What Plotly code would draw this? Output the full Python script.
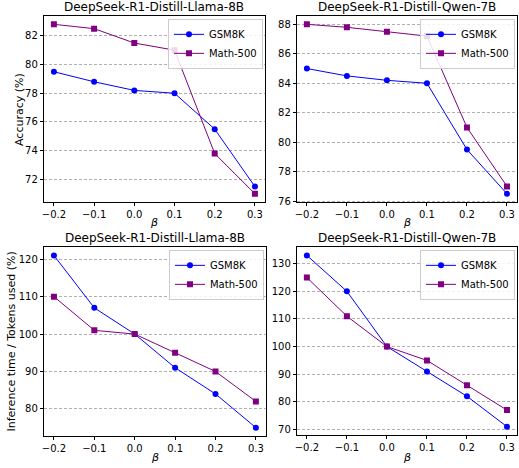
import plotly.graph_objects as go

beta = [-0.2, -0.1, 0.0, 0.1, 0.2, 0.3]
x_ticks = [-0.2, -0.1, 0.0, 0.1, 0.2, 0.3]
x_tick_labels = ["\u22120.2", "\u22120.1", "0.0", "0.1", "0.2", "0.3"]

llama_acc_gsm8k = [79.5, 78.8, 78.2, 78.0, 75.5, 71.5]
llama_acc_math500 = [82.8, 82.5, 81.5, 81.0, 73.8, 71.0]
qwen_acc_gsm8k = [85.0, 84.5, 84.2, 84.0, 79.5, 76.5]
qwen_acc_math500 = [88.0, 87.8, 87.5, 87.2, 81.0, 77.0]
llama_inf_gsm8k = [121, 107, 100, 91, 84, 75]
llama_inf_math500 = [110, 101, 100, 95, 90, 82]
qwen_inf_gsm8k = [133, 120, 100, 91, 82, 71]
qwen_inf_math500 = [125, 111, 100, 95, 86, 77]

titles = ["DeepSeek-R1-Distill-Llama-8B", "DeepSeek-R1-Distill-Qwen-7B",
          "DeepSeek-R1-Distill-Llama-8B", "DeepSeek-R1-Distill-Qwen-7B"]
y_ticks = [[72, 74, 76, 78, 80, 82], [76, 78, 80, 82, 84, 86, 88],
           [80, 90, 100, 110, 120], [70, 80, 90, 100, 110, 120, 130]]
series = [(llama_acc_gsm8k, llama_acc_math500), (qwen_acc_gsm8k, qwen_acc_math500),
          (llama_inf_gsm8k, llama_inf_math500), (qwen_inf_gsm8k, qwen_inf_math500)]
y_titles = ["Accuracy (%)", None, "Inference time / Tokens used (%)", None]
y_title_x = [17, None, 10, None]

W, H = 519, 468
FONT = "DejaVu Sans"
BLUE = "#0000ff"
PURPLE = "#800080"

# pixel boxes (left, right, top, bottom)
boxes = [(42, 264, 16, 204), (296, 517, 16, 204), (42, 265, 249, 440), (296, 517, 249, 439)]
xtitle_y = [224, 224, 461, 461]

fig = go.Figure()
layout = dict(width=W, height=H, margin=dict(l=0, r=0, t=0, b=0),
              plot_bgcolor="white", paper_bgcolor="white",
              font=dict(family=FONT, size=10, color="black"), annotations=[])

for i, (box, (g, m)) in enumerate(zip(boxes, series)):
    l, r, t, b = box
    n = "" if i == 0 else str(i + 1)
    xa, ya = "x" + n, "y" + n
    lg = "legend" if i == 0 else "legend" + str(i + 1)
    fig.add_trace(go.Scatter(x=beta, y=g, mode="lines+markers", name="GSM8K",
                             line=dict(color=BLUE, width=1), marker=dict(symbol="circle", size=6, color=BLUE),
                             xaxis=xa, yaxis=ya, legend=lg))
    fig.add_trace(go.Scatter(x=beta, y=m, mode="lines+markers", name="Math-500",
                             line=dict(color=PURPLE, width=1), marker=dict(symbol="square", size=6, color=PURPLE),
                             xaxis=xa, yaxis=ya, legend=lg))
    lo = min(min(g), min(m)); hi = max(max(g), max(m)); pad = (hi - lo) * 0.05
    dx = [l / W, r / W]
    dy = [1 - b / H, 1 - t / H]
    layout["xaxis" + n] = dict(domain=dx, range=[-0.225, 0.325], anchor=ya,
                               tickvals=x_ticks, ticktext=x_tick_labels,
                               ticks="outside", ticklen=3, tickcolor="black",
                               showline=True, linecolor="black", linewidth=1, mirror=True,
                               showgrid=False, zeroline=False,
                               tickfont=dict(size=10, family=FONT))
    layout["yaxis" + n] = dict(domain=dy, range=[lo - pad, hi + pad], anchor=xa,
                               tickvals=y_ticks[i],
                               ticks="outside", ticklen=3, tickcolor="black",
                               showline=True, linecolor="black", linewidth=1, mirror=True,
                               showgrid=True, gridcolor="#b0b0b0", griddash="3px,2px", gridwidth=0.8,
                               zeroline=False, tickfont=dict(size=10, family=FONT))
    layout[lg] = dict(x=(r - 2) / W, y=1 - (t + 3) / H, xanchor="right", yanchor="top",
                      bgcolor="rgba(255,255,255,0.85)", bordercolor="#cccccc", borderwidth=1,
                      font=dict(size=10, family=FONT), tracegroupgap=0,
                      itemwidth=30)
    layout["annotations"].append(dict(text=titles[i], x=(l + r) / 2 / W, y=1 - t / H,
                                      xref="paper", yref="paper", xanchor="center", yanchor="bottom",
                                      showarrow=False, font=dict(size=12, family=FONT)))
    layout["annotations"].append(dict(text="<i>\u03b2</i>", x=(l + r) / 2 / W, y=1 - xtitle_y[i] / H,
                                      xref="paper", yref="paper", xanchor="center", yanchor="middle",
                                      showarrow=False, borderpad=0, font=dict(size=11, family=FONT)))
    if y_titles[i]:
        layout["annotations"].append(dict(text=y_titles[i], x=y_title_x[i] / W, y=1 - (t + b) / 2 / H,
                                          xref="paper", yref="paper", xanchor="center", yanchor="middle",
                                          textangle=-90, showarrow=False, font=dict(size=11, family=FONT)))

fig.update_layout(**layout)
fig.write_html("out.html")
